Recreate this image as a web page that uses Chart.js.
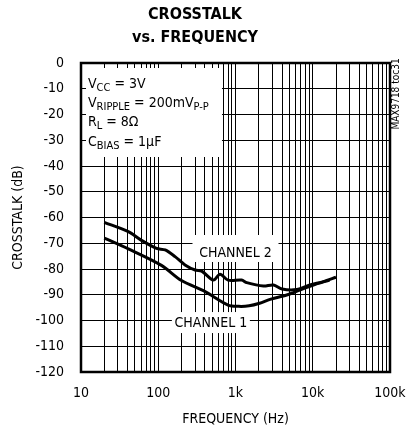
<!DOCTYPE html>
<html>
<head>
<meta charset="utf-8">
<script src="https://cdn.jsdelivr.net/npm/chart.js@4.4.0/dist/chart.umd.min.js"></script>
<style>
body { margin: 0; background: #fff; }
#wrap { width: 406px; height: 432px; }
</style>
</head>
<body>
<div id="wrap"><canvas id="myChart"></canvas></div>
<script>
var FONT = "'Liberation Sans Narrow', 'DejaVu Sans Condensed', sans-serif";

// x axis decades and their labels
var decades = [10, 100, 1000, 10000, 100000];
var decadeLabels = ['10', '100', '1k', '10k', '100k'];

// crosstalk, channel 1 (lower curve)
var ch1Freq = [20, 41, 110, 200, 405, 800, 1100, 1500, 2050, 2800, 4600, 6800, 10000, 16500];
var ch1Db = [-68.0, -72.2, -78.6, -84.5, -88.8, -94.0, -94.5, -94.3, -93.3, -91.8, -90.1, -88.2, -86.3, -84.3];

// crosstalk, channel 2 (upper curve)
var ch2Freq = [20, 41, 60, 95, 123, 165, 222, 300, 365, 518, 630, 800, 1200, 1400, 2300, 3100, 4000, 6200, 9200, 13700, 20000];
var ch2Db = [-61.9, -65.5, -68.8, -72.0, -72.6, -75.2, -78.4, -80.4, -80.8, -84.3, -82.0, -84.3, -84.3, -85.3, -86.6, -86.2, -87.8, -88.0, -86.2, -84.9, -83.2];

// grid lines at 1..9 x each decade
var xGrid = [];
for (var d = 0; d < decades.length - 1; d++) {
    for (var m = 1; m < 10; m++) xGrid.push(decades[d] * m);
}
xGrid.push(decades[decades.length - 1]);

function points(fs, vs) {
    return fs.map(function (f, i) { return { x: f, y: vs[i] }; });
}

// text with subscripts: [text, isSub]
function drawRuns(ctx, x, y, runs) {
    runs.forEach(function (r) {
        ctx.font = (r[1] ? '11px ' : '14px ') + FONT;
        ctx.fillText(r[0], x, y + (r[1] ? 3 : 0));
        x += ctx.measureText(r[0]).width;
    });
}

var conditions = [
    [['V', 0], ['CC', 1], [' = 3V', 0]],
    [['V', 0], ['RIPPLE', 1], [' = 200mV', 0], ['P-P', 1]],
    [['R', 0], ['L', 1], [' = 8\u03A9', 0]],
    [['C', 0], ['BIAS', 1], [' = 1\u00B5F', 0]]
];

var extras = {
    id: 'extras',
    beforeDatasetsDraw: function (chart) {
        var ctx = chart.ctx, a = chart.chartArea;
        var xs = chart.scales.x, ys = chart.scales.y;
        ctx.save();
        ctx.fillStyle = '#fff';
        // conditions box
        ctx.fillRect(a.left + 5, a.top + 5, xs.getPixelForValue(668) - a.left - 5, 89);
        // channel label boxes
        ctx.fillRect(xs.getPixelForValue(1000) - 43, ys.getPixelForValue(-73.4) - 17, 86, 27);
        ctx.fillRect(xs.getPixelForValue(480) - 39, ys.getPixelForValue(-100.6) - 10, 78, 21);
        ctx.restore();
    },
    afterDatasetsDraw: function (chart) {
        var ctx = chart.ctx, a = chart.chartArea;
        var xs = chart.scales.x, ys = chart.scales.y;
        ctx.save();
        ctx.strokeStyle = '#000';
        ctx.lineWidth = 2.5;
        ctx.strokeRect(a.left, a.top, a.right - a.left, a.bottom - a.top);

        ctx.fillStyle = '#000';
        ctx.textBaseline = 'alphabetic';
        ctx.textAlign = 'left';
        conditions.forEach(function (runs, i) {
            drawRuns(ctx, a.left + 7, a.top + 25 + i * 19.2, runs);
        });

        ctx.font = '14px ' + FONT;
        ctx.textAlign = 'center';
        ctx.fillText('CHANNEL 2', xs.getPixelForValue(1000), ys.getPixelForValue(-73.4) + 5);
        ctx.fillText('CHANNEL 1', xs.getPixelForValue(480), ys.getPixelForValue(-100.6) + 5);

        // side code
        ctx.translate(a.right + 6, a.top + 31);
        ctx.rotate(-Math.PI / 2);
        ctx.font = '10px ' + FONT;
        ctx.textBaseline = 'middle';
        ctx.fillText('MAX9718 toc31', 0, 0);
        ctx.restore();
    }
};

var ctx = document.getElementById('myChart');
var myChart = new Chart(ctx, {
    type: 'line',
    data: {
        datasets: [{
            label: 'CHANNEL 1',
            data: points(ch1Freq, ch1Db),
            borderColor: '#000',
            borderWidth: 3,
            pointRadius: 0,
            tension: 0.3,
            fill: false
        }, {
            label: 'CHANNEL 2',
            data: points(ch2Freq, ch2Db),
            borderColor: '#000',
            borderWidth: 3,
            pointRadius: 0,
            tension: 0.3,
            fill: false
        }]
    },
    options: {
        responsive: true,
        maintainAspectRatio: false,
        animation: false,
        layout: { padding: { left: 0, right: 16, top: 0, bottom: 0 } },
        plugins: {
            legend: { display: false },
            tooltip: { enabled: false },
            title: {
                display: true,
                text: ['CROSSTALK', 'vs. FREQUENCY'],
                color: '#000',
                font: { family: FONT, size: 16, weight: 'bold', lineHeight: '23px' },
                padding: { top: 3, bottom: 14 }
            }
        },
        scales: {
            x: {
                type: 'logarithmic',
                min: 10,
                max: 100000,
                afterBuildTicks: function (s) {
                    s.ticks = xGrid.map(function (v) { return { value: v }; });
                },
                afterFit: function (s) {
                    s.height = 60;
                    s.paddingLeft = 0;
                    s.paddingRight = 0;
                },
                grid: { color: '#000', lineWidth: 1, drawTicks: false },
                border: { display: false },
                ticks: {
                    autoSkip: false,
                    maxRotation: 0,
                    padding: 13,
                    color: '#000',
                    font: { family: FONT, size: 14 },
                    callback: function (v) {
                        var i = decades.indexOf(v);
                        return i >= 0 ? decadeLabels[i] : '';
                    }
                },
                title: {
                    display: true,
                    text: 'FREQUENCY (Hz)',
                    color: '#000',
                    font: { family: FONT, size: 14, lineHeight: 1.2 },
                    padding: { top: 0, bottom: 4.6 }
                }
            },
            y: {
                min: -120,
                max: 0,
                afterFit: function (s) {
                    s.width = 81;
                    s.paddingTop = 0;
                    s.paddingBottom = 0;
                },
                grid: { color: '#000', lineWidth: 1, drawTicks: false },
                border: { display: false },
                ticks: {
                    stepSize: 10,
                    padding: 17,
                    color: '#000',
                    font: { family: FONT, size: 14 }
                },
                title: {
                    display: true,
                    text: 'CROSSTALK (dB)',
                    color: '#000',
                    font: { family: FONT, size: 14, lineHeight: 1.2 },
                    padding: { top: 10, bottom: 0 }
                }
            }
        }
    },
    plugins: [extras]
});
</script>
</body>
</html>
